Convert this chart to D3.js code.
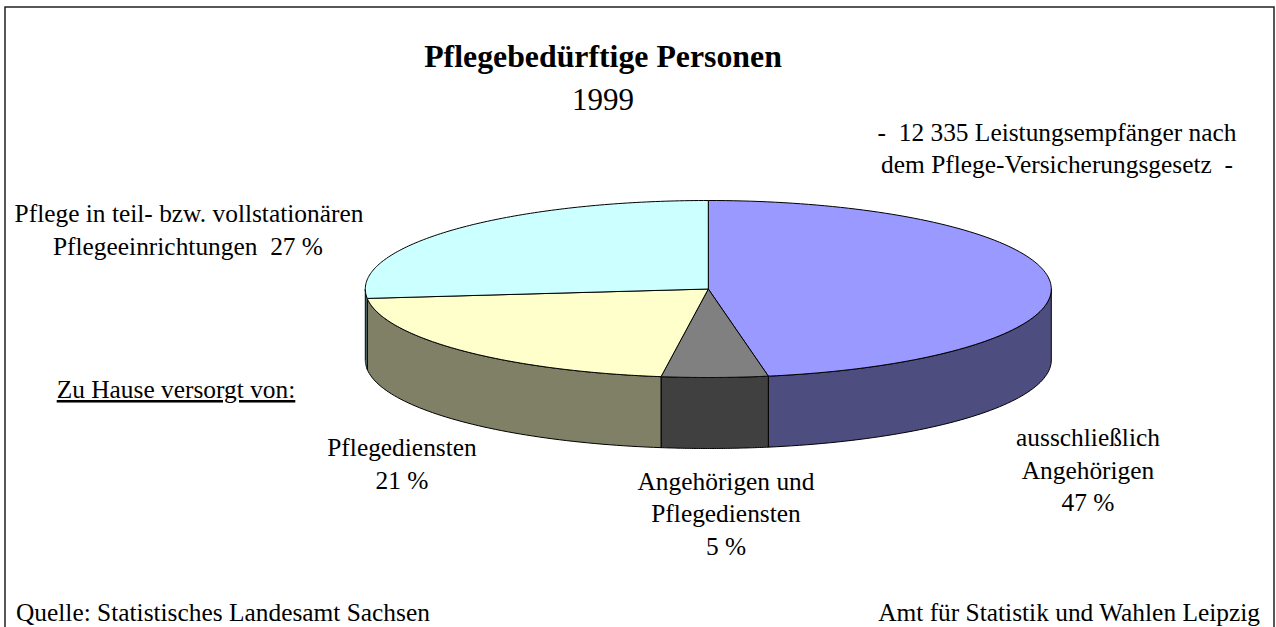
<!DOCTYPE html>
<html><head><meta charset="utf-8"><script src="https://cdn.jsdelivr.net/npm/d3@7"></script>
<style>html,body{margin:0;padding:0;background:#fff}svg{display:block}text{font-family:"Liberation Serif",serif;font-size:25.4px;fill:#000;white-space:pre}</style></head>
<body><svg width="1276" height="627"></svg>
<script>
const categories=["ausschließlich Angehörigen","Angehörigen und Pflegediensten","Pflegediensten","Pflege in teil- bzw. vollstationären Pflegeeinrichtungen"];
const values=[47.2,5.0,21.1,26.7];
const topColors=["#9999ff","#808080","#ffffcc","#ccffff"];
const sideColors=["#4d4d80","#404040","#808066","#668080"];
const labels=[
 ["-  12 335 Leistungsempfänger nach",1057,141,"middle"],
 ["dem Pflege-Versicherungsgesetz  -",1057,173,"middle"],
 ["Pflege in teil- bzw. vollstationären",189,222,"middle"],
 ["Pflegeeinrichtungen  27 %",188,255,"middle"],
 ["Pflegediensten",402,456,"middle"],
 ["21 %",402,489,"middle"],
 ["Angehörigen und",726,490,"middle"],
 ["Pflegediensten",726,522,"middle"],
 ["5 %",726,555,"middle"],
 ["ausschließlich",1088,446,"middle"],
 ["Angehörigen",1088,479,"middle"],
 ["47 %",1088,511,"middle"],
 ["Quelle: Statistisches Landesamt Sachsen",16,621,"start"],
 ["Amt für Statistik und Wahlen Leipzig",1260,621,"end"]];
const svg=d3.select("svg");
svg.append("rect").attr("x",5).attr("y",7).attr("width",1269).attr("height",640).attr("fill","#fff").attr("stroke","#222").attr("stroke-width",1.5);
const cx=708.3,cy=289,rx=343,ry=88.5,depth=71;
const pie=d3.pie().sort(null).value(d=>d)(values);
const px=a=>cx+rx*Math.sin(a), py=a=>cy-ry*Math.cos(a);
const g=svg.append("g").attr("stroke","#000").attr("stroke-width",1);
function side(a0,a1){
  const s=Math.max(a0,Math.PI/2), e=Math.min(a1,3*Math.PI/2);
  if(e<=s) return null;
  const n=d3.range(0,61).map(i=>s+(e-s)*i/60);
  const p=d3.path();
  n.forEach((a,i)=>i?p.lineTo(px(a),py(a)):p.moveTo(px(a),py(a)));
  n.slice().reverse().forEach(a=>p.lineTo(px(a),py(a)+depth));
  p.closePath();return p.toString();
}
function wedge(a0,a1){
  const p=d3.path();p.moveTo(cx,cy);
  d3.range(0,121).forEach(i=>{const a=a0+(a1-a0)*i/120;p.lineTo(px(a),py(a));});
  p.closePath();return p.toString();
}
pie.forEach((d,i)=>{const s=side(d.startAngle,d.endAngle);if(s)g.append("path").attr("d",s).attr("fill",sideColors[i]);});
pie.forEach((d,i)=>g.append("path").attr("d",wedge(d.startAngle,d.endAngle)).attr("fill",topColors[i]));
svg.append("text").attr("x",603).attr("y",67).attr("text-anchor","middle").style("font-size","31.8px").style("font-weight","bold").text("Pflegebedürftige Personen");
svg.append("text").attr("x",603).attr("y",110).attr("text-anchor","middle").style("font-size","31px").text("1999");
labels.forEach(l=>svg.append("text").attr("x",l[1]).attr("y",l[2]).attr("text-anchor",l[3]).text(l[0]));
svg.append("text").attr("x",176).attr("y",398).attr("text-anchor","middle").attr("text-decoration","underline").text("Zu Hause versorgt von:");
</script></body></html>
